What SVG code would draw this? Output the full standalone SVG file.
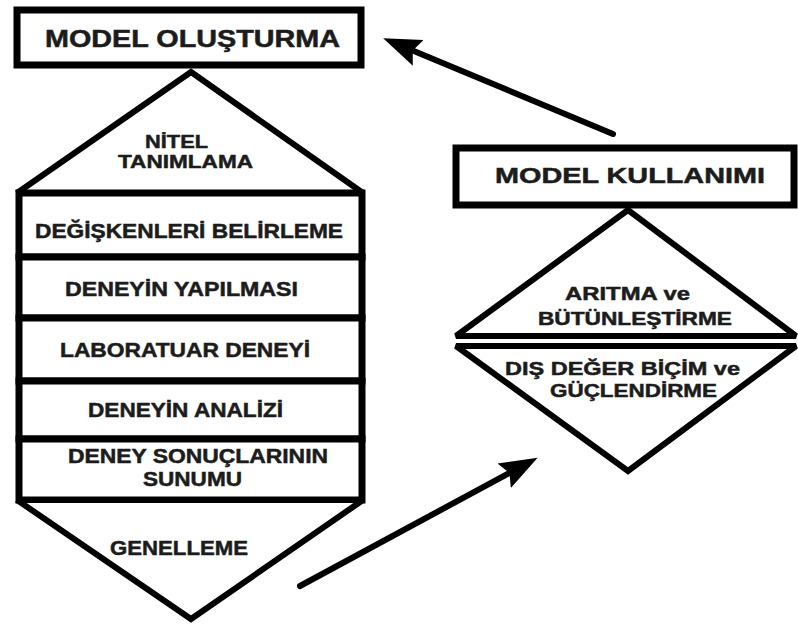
<svg xmlns="http://www.w3.org/2000/svg" width="798" height="633" viewBox="0 0 798 633">
  <style>
    .box { fill: #ffffff; stroke: #000000; stroke-width: 7; stroke-linejoin: miter; }
    .tri { fill: #ffffff; stroke: #000000; stroke-width: 6; stroke-linejoin: miter; stroke-miterlimit: 3; }
    .lbl { font-family: "Liberation Sans", Arial, sans-serif; font-weight: bold; fill: #1c1c1c; stroke: #1c1c1c; stroke-width: 0.5; }
    .conn { fill: none; stroke: #000000; stroke-width: 6; stroke-linecap: round; }
  </style>
  <defs>
    <marker id="head" markerUnits="userSpaceOnUse" viewBox="0 -15 40 30" refX="10" refY="0" markerWidth="40" markerHeight="30" orient="auto">
      <path d="M0,-14 L38,0 L0,14 L6,0 Z" fill="#000000"/>
    </marker>
  </defs>

  <rect width="798" height="633" fill="#ffffff"/>

  <!-- left column: model building -->
  <g id="model-olusturma">
    <rect class="box" x="17" y="10" width="344" height="55"/>
    <text class="lbl" x="45" y="47" font-size="24" textLength="295" lengthAdjust="spacingAndGlyphs">MODEL OLUŞTURMA</text>
  </g>

  <g id="nitel-tanimlama">
    <polygon class="tri" points="191,72 17,193 363,193"/>
    <text class="lbl" x="145" y="148" font-size="19" textLength="63" lengthAdjust="spacingAndGlyphs">NİTEL</text>
    <text class="lbl" x="118" y="168" font-size="19" textLength="135" lengthAdjust="spacingAndGlyphs">TANIMLAMA</text>
  </g>

  <g id="degiskenleri-belirleme">
    <rect class="box" x="19" y="193" width="343" height="64"/>
    <text class="lbl" x="35" y="238" font-size="20" textLength="308" lengthAdjust="spacingAndGlyphs">DEĞİŞKENLERİ BELİRLEME</text>
  </g>

  <g id="deneyin-yapilmasi">
    <rect class="box" x="19" y="257" width="343" height="61"/>
    <text class="lbl" x="65" y="296" font-size="20" textLength="233" lengthAdjust="spacingAndGlyphs">DENEYİN YAPILMASI</text>
  </g>

  <g id="laboratuar-deneyi">
    <rect class="box" x="19" y="318" width="343" height="63"/>
    <text class="lbl" x="60" y="357" font-size="20" textLength="250" lengthAdjust="spacingAndGlyphs">LABORATUAR DENEYİ</text>
  </g>

  <g id="deneyin-analizi">
    <rect class="box" x="19" y="381" width="343" height="58"/>
    <text class="lbl" x="88" y="417" font-size="20" textLength="195" lengthAdjust="spacingAndGlyphs">DENEYİN ANALİZİ</text>
  </g>

  <g id="deney-sonuclari">
    <rect class="box" x="19" y="439" width="343" height="61"/>
    <text class="lbl" x="68" y="463" font-size="20" textLength="260" lengthAdjust="spacingAndGlyphs">DENEY SONUÇLARININ</text>
    <text class="lbl" x="143" y="486" font-size="20" textLength="99" lengthAdjust="spacingAndGlyphs">SUNUMU</text>
  </g>

  <g id="genelleme">
    <polygon class="tri" points="17,500 363,500 191,619"/>
    <text class="lbl" x="110" y="555" font-size="20" textLength="138" lengthAdjust="spacingAndGlyphs">GENELLEME</text>
  </g>

  <!-- right column: model use -->
  <g id="model-kullanimi">
    <rect class="box" x="456" y="148" width="338" height="57"/>
    <text class="lbl" x="495" y="183" font-size="22" textLength="270" lengthAdjust="spacingAndGlyphs">MODEL KULLANIMI</text>
  </g>

  <g id="aritma">
    <polygon class="tri" points="628,210 456,336 796,336"/>
    <text class="lbl" x="565" y="300" font-size="19" textLength="125" lengthAdjust="spacingAndGlyphs">ARITMA ve</text>
    <text class="lbl" x="538" y="325" font-size="19" textLength="194" lengthAdjust="spacingAndGlyphs">BÜTÜNLEŞTİRME</text>
  </g>

  <g id="dis-deger">
    <polygon class="tri" points="456,346 796,346 628,471"/>
    <text class="lbl" x="505" y="375" font-size="19" textLength="235" lengthAdjust="spacingAndGlyphs">DIŞ DEĞER BİÇİM ve</text>
    <text class="lbl" x="550" y="397" font-size="19" textLength="167" lengthAdjust="spacingAndGlyphs">GÜÇLENDİRME</text>
  </g>

  <!-- connectors -->
  <g id="connectors">
    <line class="conn" x1="613" y1="134" x2="409" y2="49" marker-end="url(#head)"/>
    <line class="conn" x1="300" y1="586" x2="513" y2="471" marker-end="url(#head)"/>
  </g>
</svg>
